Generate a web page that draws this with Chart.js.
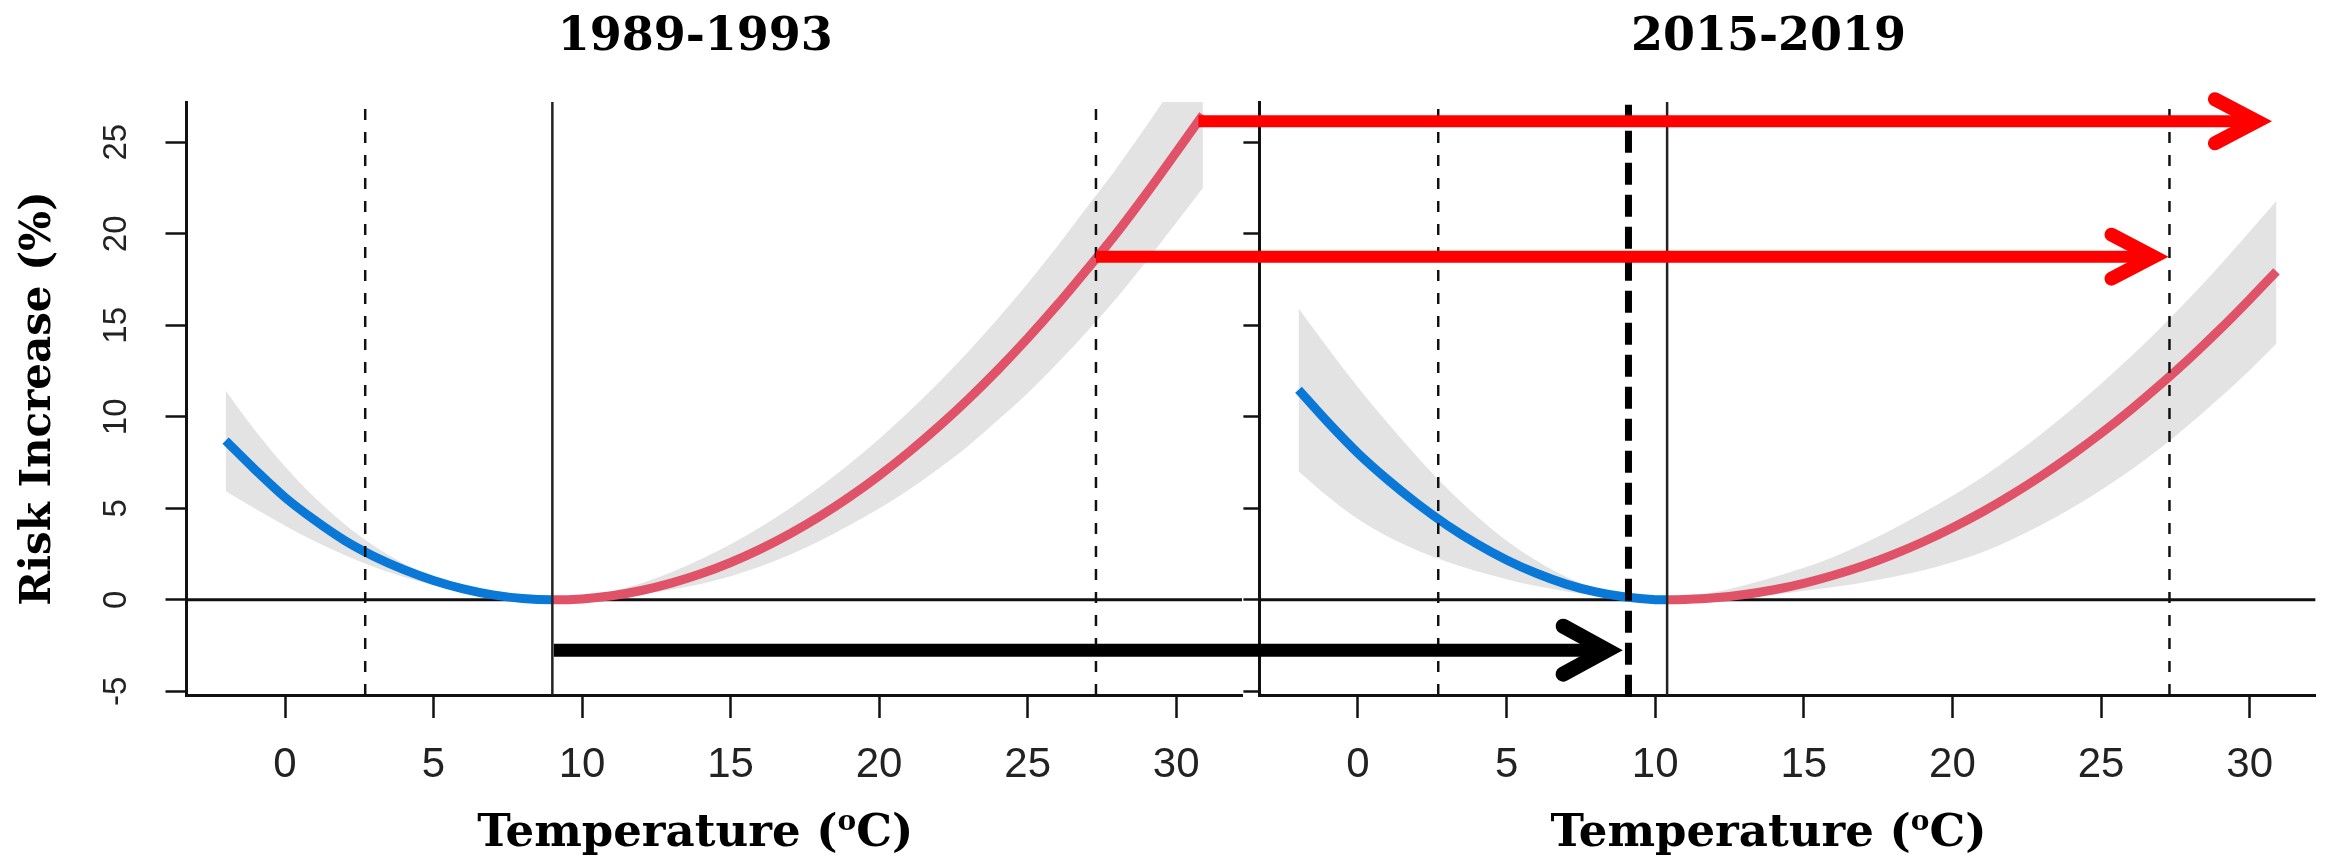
<!DOCTYPE html>
<html>
<head>
<meta charset="utf-8">
<script src="https://cdn.jsdelivr.net/npm/chart.js@4.4.0/dist/chart.umd.min.js"></script>
<style>
  html, body { margin: 0; padding: 0; background: #fff; }
  #wrap { position: relative; width: 2328px; height: 858px; }
  #wrap canvas { position: absolute; left: 0; top: 0; }
</style>
</head>
<body>
<div id="wrap">
  <canvas id="left" width="2328" height="858"></canvas>
  <canvas id="right" width="2328" height="858"></canvas>
</div>
<script>
// ---- data ----
const periods = ["1989-1993", "2015-2019"];

const tempsL = [-2, -1, 0, 1, 2, 3, 4, 5, 6, 7, 8, 9, 10, 11, 12, 13, 14, 15, 16, 17, 18, 19, 20, 21, 22, 23, 24, 25, 26, 27, 28, 29, 30, 30.9];
const riskL = [8.7, 7.1, 5.6, 4.35, 3.25, 2.37, 1.65, 1.06, 0.6, 0.27, 0.07, 0, 0.05, 0.22, 0.51, 0.91, 1.42, 2.04, 2.77, 3.61, 4.56, 5.62, 6.79, 8.07, 9.46, 10.96, 12.57, 14.29, 16.12, 18.06, 20.05, 22.2, 24.45, 26.5];
const highL = [11.44, 9.24, 7.29, 5.59, 4.14, 2.94, 1.99, 1.24, 0.69, 0.31, 0.09, 0, 0.15, 0.47, 0.91, 1.51, 2.22, 3.04, 3.97, 5.01, 6.16, 7.42, 8.79, 10.27, 11.86, 13.56, 15.37, 17.29, 19.32, 21.46, 23.6, 25.9, 28.3, 30.5];
const lowL = [5.95, 4.97, 4.05, 3.2, 2.45, 1.8, 1.25, 0.8, 0.45, 0.2, 0.05, 0, 0.02, 0.12, 0.31, 0.56, 0.87, 1.29, 1.82, 2.46, 3.21, 4.07, 4.99, 6.02, 7.16, 8.41, 9.82, 11.29, 12.92, 14.66, 16.5, 18.5, 20.6, 22.5];

const tempsR = [-2, -1, 0, 1, 2, 3, 4, 5, 6, 7, 8, 9, 10, 10.4, 11, 12, 13, 14, 15, 16, 17, 18, 19, 20, 21, 22, 23, 24, 25, 26, 27, 28, 29, 30, 30.9];
const riskR = [11.48, 9.68, 8.01, 6.56, 5.25, 4.08, 3.06, 2.18, 1.45, 0.86, 0.43, 0.15, 0.01, 0, 0.02, 0.11, 0.29, 0.55, 0.9, 1.34, 1.86, 2.47, 3.16, 3.94, 4.8, 5.75, 6.78, 7.9, 9.1, 10.39, 11.77, 13.23, 14.78, 16.42, 17.95];
const highR = [15.93, 13.73, 11.61, 9.66, 7.8, 6.08, 4.56, 3.23, 2.15, 1.26, 0.61, 0.2, 0.02, 0, 0.12, 0.41, 0.79, 1.25, 1.75, 2.34, 3.06, 3.87, 4.76, 5.69, 6.7, 7.85, 9.08, 10.4, 11.8, 13.29, 14.87, 16.53, 18.28, 20.12, 21.8];
const lowR = [7.03, 5.63, 4.41, 3.46, 2.7, 2.08, 1.56, 1.13, 0.75, 0.46, 0.25, 0.1, 0, 0, 0, 0.05, 0.15, 0.3, 0.5, 0.7, 0.95, 1.25, 1.6, 2.05, 2.6, 3.3, 4.1, 5.0, 6.0, 7.1, 8.3, 9.63, 11.05, 12.55, 14.0];

const mmtL = 9;          // minimum risk temperature, 1989-1993
const mmtR = 10.4;       // minimum risk temperature, 2015-2019
const pctL = [2.7, 27.3];  // dashed percentile lines
const pctR = [2.7, 27.3];
const shiftedMmt = 9.1;  // thick dashed line in right panel

const redArrows = [
  { y: 26.15, from: 30.75, to: 30.78 },
  { y: 18.75, from: 27.3, to: 27.3 }
];
const blackArrow = { y: -2.75, from: 9.05, to: 8.92 };

const xTickVals = [0, 5, 10, 15, 20, 25, 30];
const yTickVals = [-5, 0, 5, 10, 15, 20, 25];
const xRange = [-3.316, 32.216];
const yRange = [-5.2, 27.2];

const BLUE = "#0a78d6";
const RED = "#df5268";
const BAND = "#e3e3e3";

function pts(xs, ys) {
  return xs.map((x, i) => ({ x: x, y: ys[i] }));
}
function vline(x, y0, y1) {
  return [{ x: x, y: y0 === undefined ? yRange[0] : y0 }, { x: x, y: y1 === undefined ? yRange[1] : y1 }];
}

// titles and x label (drawn slightly left of plot centre like the original)
const panelText = {
  id: "panelText",
  afterDraw(chart, args, opts) {
    const ctx = chart.ctx;
    const a = chart.chartArea;
    const cx = (a.left + a.right) / 2 - 19;
    ctx.save();
    ctx.fillStyle = "#000";
    ctx.textBaseline = "alphabetic";
    ctx.textAlign = "center";
    ctx.font = "bold 46px 'DejaVu Serif'";
    ctx.fillText(opts.title, cx, 50);

    const big = "bold 45px 'DejaVu Serif'";
    const small = "bold 28px 'DejaVu Serif'";
    const p1 = "Temperature (", p2 = "o", p3 = "C)";
    ctx.font = big;
    const w1 = ctx.measureText(p1).width, w3 = ctx.measureText(p3).width;
    ctx.font = small;
    const w2 = ctx.measureText(p2).width;
    let x = cx - (w1 + w2 + w3) / 2;
    const by = 846;
    ctx.textAlign = "left";
    ctx.font = big; ctx.fillText(p1, x, by); x += w1;
    ctx.font = small; ctx.fillText(p2, x, by - 16); x += w2;
    ctx.font = big; ctx.fillText(p3, x, by);
    ctx.restore();
  }
};

function drawArrow(ctx, x0, x1, y, color, w, len, half) {
  const tip = x1 - 16;
  ctx.save();
  ctx.strokeStyle = color;
  ctx.lineWidth = w;
  ctx.lineCap = "butt";
  ctx.beginPath();
  ctx.moveTo(x0, y);
  ctx.lineTo(tip, y);
  ctx.stroke();
  ctx.lineWidth = w + 2;
  ctx.lineCap = "round";
  ctx.lineJoin = "miter";
  ctx.miterLimit = 10;
  ctx.beginPath();
  ctx.moveTo(tip - len, y - half);
  ctx.lineTo(tip, y);
  ctx.lineTo(tip - len, y + half);
  ctx.stroke();
  ctx.restore();
}

function panelDatasets(temps, risk, low, high, mmt, pct) {
  return [
    { label: "upper", data: pts(temps, high), borderWidth: 0, pointRadius: 0, fill: "+1", backgroundColor: BAND, cubicInterpolationMode: "monotone", order: 10 },
    { label: "lower", data: pts(temps, low), borderWidth: 0, pointRadius: 0, fill: false, cubicInterpolationMode: "monotone", order: 10 },
    { label: "zero", data: [{ x: xRange[0], y: 0 }, { x: xRange[1], y: 0 }], borderColor: "#111", borderWidth: 3, pointRadius: 0, order: 9 },
    {
      label: "risk", data: pts(temps, risk), borderWidth: 9, pointRadius: 0, borderColor: RED,
      cubicInterpolationMode: "monotone",
      segment: { borderColor: c => temps[c.p0DataIndex] < mmt ? BLUE : RED },
      order: 8
    },
    { label: "mmt", data: vline(mmt), borderColor: "#222", borderWidth: 2.5, pointRadius: 0, order: 2 },
    { label: "p lo", data: vline(pct[0]), borderColor: "#111", borderWidth: 2.5, borderDash: [11, 12], pointRadius: 0, order: 2 },
    { label: "p hi", data: vline(pct[1]), borderColor: "#111", borderWidth: 2.5, borderDash: [11, 12], pointRadius: 0, order: 2 }
  ];
}

function baseOptions(title, showYLabels, yWidth, pad) {
  return {
    responsive: false,
    animation: false,
    layout: { padding: pad },
    plugins: {
      legend: { display: false },
      tooltip: { enabled: false },
      panelText: { title: title }
    },
    scales: {
      x: {
        type: "linear",
        min: xRange[0], max: xRange[1],
        afterBuildTicks: s => { s.ticks = xTickVals.map(v => ({ value: v })); },
        afterFit: s => { s.height = 163; },
        border: { display: true, color: "#111", width: 3 },
        grid: { drawOnChartArea: false, drawTicks: true, tickLength: 23, tickWidth: 2.5, tickColor: "#111" },
        ticks: { font: { family: "Liberation Sans", size: 42 }, color: "#222", padding: 22, maxRotation: 0, autoSkip: false }
      },
      y: {
        type: "linear",
        min: yRange[0], max: yRange[1],
        afterBuildTicks: s => { s.ticks = yTickVals.map(v => ({ value: v })); },
        afterFit: s => { s.width = yWidth; },
        border: { display: true, color: "#111", width: 3 },
        grid: { drawOnChartArea: false, drawTicks: true, tickLength: showYLabels ? 21 : 16, tickWidth: 2.5, tickColor: "#111" },
        ticks: {
          display: showYLabels,
          font: { family: "Liberation Sans", size: 33 }, color: "#222",
          minRotation: 90, maxRotation: 90, crossAlign: "center", padding: 30, autoSkip: false
        },
        title: {
          display: showYLabels,
          text: "Risk Increase (%)",
          color: "#000",
          font: { family: "DejaVu Serif", size: 42, weight: "bold" },
          padding: { top: 14, bottom: 0 }
        }
      }
    }
  };
}

const leftChart = new Chart(document.getElementById("left"), {
  type: "line",
  data: { datasets: panelDatasets(tempsL, riskL, lowL, highL, mmtL, pctL) },
  options: baseOptions(periods[0], true, 186.5, { left: 0, top: 102, right: 1086, bottom: 0 }),
  plugins: [panelText]
});

const arrows = {
  id: "arrows",
  afterDatasetsDraw(chart) {
    const ctx = chart.ctx;
    const xl = leftChart.scales.x, yl = leftChart.scales.y, xr = chart.scales.x;
    redArrows.forEach(a => {
      drawArrow(ctx, xl.getPixelForValue(a.from), xr.getPixelForValue(a.to), yl.getPixelForValue(a.y), "#ff0000", 12, 42, 22);
    });
    drawArrow(ctx, xl.getPixelForValue(blackArrow.from), xr.getPixelForValue(blackArrow.to), yl.getPixelForValue(blackArrow.y), "#000", 13, 44, 24);
  }
};

const rightSets = panelDatasets(tempsR, riskR, lowR, highR, mmtR, pctR);
rightSets.push({ label: "shifted mmt", data: vline(shiftedMmt, -5.3, 27.05), borderColor: "#000", borderWidth: 7, borderDash: [22, 10], pointRadius: 0, order: 1, clip: false });

const rightChart = new Chart(document.getElementById("right"), {
  type: "line",
  data: { datasets: rightSets },
  options: baseOptions(periods[1], false, 30, { left: 1229.4, top: 102, right: 12.4, bottom: 0 }),
  plugins: [panelText, arrows]
});
</script>
</body>
</html>
